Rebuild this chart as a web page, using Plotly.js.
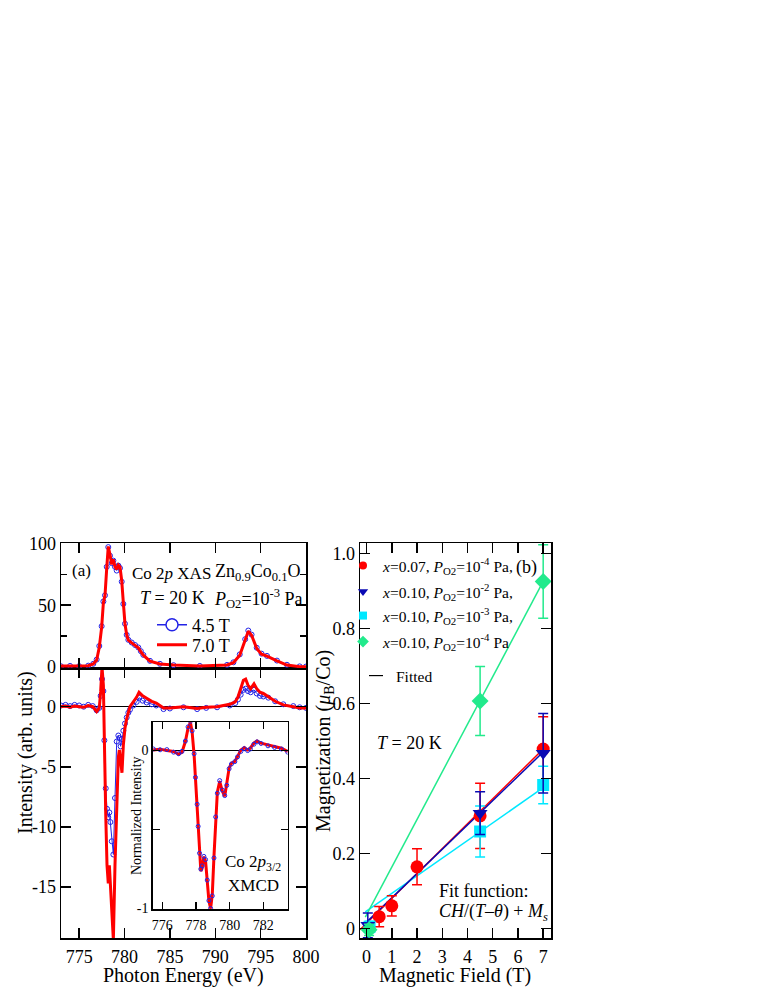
<!DOCTYPE html>
<html>
<head>
<meta charset="utf-8">
<script src="https://cdn.plot.ly/plotly-3.0.1.min.js"></script>
<style>
  body { margin: 0; background: #fff; }
  #chart { width: 763px; height: 987px; }
</style>
</head>
<body>
<div id="chart"></div>
<script>
// ---- (a) Co 2p XAS, top panel ----
const eXas = [773.0, 774.0, 775.0, 776.0, 776.56, 776.93, 777.22, 777.48, 777.67, 777.85, 778.04, 778.21,
  778.4, 778.59, 778.77, 778.95, 779.14, 779.32, 779.5, 779.69, 779.87, 780.05, 780.24, 780.42, 780.79,
  781.16, 781.52, 781.8, 782.07, 782.81, 783.9, 785.4, 788.3, 791.3, 792.0, 792.7, 793.3, 793.64, 794.0,
  794.57, 795.1, 795.7, 796.8, 797.9, 799.3, 800.0];
const xas70 = [0.8, 0.8, 0.8, 1.0, 2.4, 5.6, 16, 32, 52, 58, 80, 97.5,
  91, 83, 87, 81, 79, 82.5, 81, 70, 52, 35, 26, 21.7, 19.5,
  17.5, 15.5, 12.5, 9.6, 4.8, 2.4, 1.6, 0.8, 1.6, 3.5, 9.6, 21.7, 29, 25.7,
  15, 10.4, 8.8, 5, 1.6, 0.3, 0.3];
const xas45 = [0.6, 0.9, 0.7, 1.1, 2.6, 6.0, 17, 33, 53, 58, 81, 97,
  90, 84, 86, 81, 78, 82, 80, 69, 51, 35, 26, 22, 19.8,
  17.8, 15.8, 12.8, 9.8, 5.0, 2.6, 1.5, 0.9, 1.7, 3.8, 10.2, 22.5, 29.5, 26.2,
  15.6, 10.8, 9.0, 5.2, 1.8, 0.5, 0.4];

// ---- (a) XMCD, bottom panel ----
const eMcd = [773.0, 773.5, 774.0, 774.5, 775.0, 775.5, 776.0, 776.5, 776.93, 777.22, 777.37, 777.52,
  777.67, 777.78, 777.93, 778.07, 778.21, 778.33, 778.44, 778.59, 778.77, 778.95, 779.14, 779.32,
  779.43, 779.57, 779.72, 779.87, 780.05, 780.24, 780.42, 780.6, 780.97, 781.34, 781.6, 782.0,
  782.44, 783.0, 783.5, 784.3, 785.0, 786.5, 788.0, 789.0, 790.2, 791.6, 792.2, 792.5, 792.8,
  793.1, 793.35, 793.6, 793.9, 794.27, 794.57, 794.93, 795.3, 795.85, 796.6, 797.5, 798.6, 799.3, 800.0];
const mcd70 = [0, 0.05, -0.05, 0.05, 0, -0.05, 0.1, 0, -0.4, -0.1, 1.25, 3.3,
  1.8, -3.5, -9, -13.2, -14.7, -13.2, -14.9, -17.4, -19.4, -13.2, -8.3, -4.2,
  -3.6, -4.7, -5.5, -3.2, -1.8, -1.0, -0.4, 0, 0.4, 0.8, 1.2, 0.9,
  0.7, 0.45, 0.3, -0.1, -0.1, 0, -0.15, -0.05, 0, 0.2, 0.4, 0.8, 1.5,
  2.2, 2.3, 1.8, 1.5, 1.9, 1.5, 1.2, 1.1, 0.85, 0.45, 0.15, 0, -0.1, -0.1];
const mcd45 = [0.1, 0.15, 0.05, 0.15, 0.1, 0.0, 0.15, 0.05, -0.3, -0.1, 0.9, 2.3,
  1.3, -2.8, -6.8, -8.5, -9.2, -8.8, -9.6, -11.2, -12.3, -7.6, -2.9, -2.4,
  -2.6, -3.3, -2.7, -2.0, -1.4, -0.9, -0.5, -0.25, 0.1, 0.4, 0.75, 0.5,
  0.35, 0.2, 0.1, -0.2, -0.15, -0.05, -0.2, -0.1, -0.05, 0.1, 0.3, 0.6, 1.0,
  1.4, 1.5, 1.3, 1.2, 1.4, 1.1, 0.9, 0.85, 0.75, 0.45, 0.2, 0.05, -0.05, -0.1];

// ---- inset: normalized Co 2p3/2 XMCD ----
const eIn = [775.47, 775.87, 776.27, 776.67, 776.97, 777.17, 777.37, 777.53, 777.67, 777.77, 777.89,
  777.97, 778.07, 778.13, 778.21, 778.29, 778.37, 778.47, 778.57, 778.67, 778.77, 778.87, 778.97,
  779.07, 779.17, 779.27, 779.41, 779.57, 779.71, 779.83, 779.97, 780.11, 780.31, 780.47, 780.67,
  780.87, 781.07, 781.23, 781.44, 781.63, 781.87, 782.28, 782.67, 783.08, 783.45];
const in70 = [0.004, 0.009, 0, -0.006, -0.023, -0.01, 0.057, 0.141, 0.179, 0.12, -0.027,
  -0.174, -0.342, -0.49, -0.658, -0.763, -0.742, -0.672, -0.70, -0.826, -0.952, -1.0, -0.91,
  -0.67, -0.415, -0.264, -0.195, -0.258, -0.29, -0.216, -0.111, -0.08, -0.069, -0.038, 0.004,
  0.019, 0.004, 0.015, 0.047, 0.061, 0.047, 0.036, 0.025, 0.015, -0.006];
const in45 = [0.01, 0.005, 0.006, -0.01, -0.02, -0.005, 0.06, 0.15, 0.185, 0.125, -0.02,
  -0.17, -0.34, -0.48, -0.65, -0.75, -0.73, -0.67, -0.69, -0.82, -0.95, -1.0, -0.92,
  -0.68, -0.42, -0.27, -0.19, -0.25, -0.285, -0.22, -0.115, -0.085, -0.07, -0.04, -0.005,
  0.012, 0.0, 0.01, 0.04, 0.055, 0.045, 0.03, 0.02, 0.01, -0.01];

// ---- (b) magnetization vs field ----
const hRed = [0.5, 1, 2, 4.5, 7];
const mRed = [0.031, 0.060, 0.164, 0.300, 0.478];
const errRed = [0.027, 0.027, 0.048, 0.087, 0.086];
const hBlue = [0.05, 4.5, 7];
const mBlue = [0.008, 0.307, 0.467];
const errBlue = [0.033, 0.057, 0.106];
const hCyan = [0.12, 4.5, 7];
const mCyan = [0.004, 0.258, 0.382];
const errCyan = [0.015, 0.068, 0.05];
const hGreen = [0.1, 4.5, 7];
const mGreen = [-0.004, 0.606, 0.925];
const errGreen = [0.015, 0.092, 0.098];

// fitted lines (end points)
const fitHRed = [-0.26, 7];
const fitRed = [-0.004, 0.478];
const fitH = [-0.05, 7];
const fitBlue = [0.013, 0.470];
const fitCyan = [0.044, 0.375];
const fitGreen = [0.03, 0.925];

const legendLabels = [
  'x=0.07, P<sub>O2</sub>=10<sup>-4</sup> Pa,',
  'x=0.10, P<sub>O2</sub>=10<sup>-2</sup> Pa,',
  'x=0.10, P<sub>O2</sub>=10<sup>-3</sup> Pa,',
  'x=0.10, P<sub>O2</sub>=10<sup>-4</sup> Pa'
];

// colours
const cRed = '#ff0000';
const cBlueA = '#2323e6';
const cBlue = '#0a0ab4';
const cCyan = '#00e8ff';
const cGreen = '#22ea8c';

const W = 763, H = 987;
const px = x => x / W;
const py = y => 1 - y / H;
const FONT = 'Liberation Serif';

const xRangeA = [773, 800];
const xRangeIn = [775.43, 783.45];
const yRangeIn = [-1.005, 0.179];

function italX(s) {
  return s.replace(/^x=/, '<i>x</i>=').replace(/P<sub>/, '<i>P</i><sub>');
}

const traces = [
  // top panel
  {x: eXas, y: xas45, xaxis: 'x2', yaxis: 'y2', mode: 'lines+markers', showlegend: false,
   line: {color: cBlueA, width: 1}, marker: {symbol: 'circle-open', size: 5, color: cBlueA, line: {width: 1}}},
  {x: eXas, y: xas70, xaxis: 'x2', yaxis: 'y2', mode: 'lines', showlegend: false,
   line: {color: cRed, width: 3}},
  // bottom panel
  {x: eMcd, y: mcd45, xaxis: 'x', yaxis: 'y', mode: 'lines+markers', showlegend: false,
   line: {color: cBlueA, width: 1}, marker: {symbol: 'circle-open', size: 5, color: cBlueA, line: {width: 1}}},
  {x: eMcd, y: mcd70, xaxis: 'x', yaxis: 'y', mode: 'lines', showlegend: false,
   line: {color: cRed, width: 3}},
  // inset
  {x: eIn, y: in45, xaxis: 'x3', yaxis: 'y3', mode: 'lines', showlegend: false,
   line: {color: cBlueA, width: 1}},
  {x: eIn, y: in70, xaxis: 'x3', yaxis: 'y3', mode: 'lines', showlegend: false,
   line: {color: cRed, width: 3}},
  {x: eIn, y: in45, xaxis: 'x3', yaxis: 'y3', mode: 'markers', showlegend: false,
   marker: {symbol: 'circle-open', size: 4, color: cBlueA, line: {width: 1}}},
  // legend entries for (a)
  {x: [null], y: [null], xaxis: 'x2', yaxis: 'y2', mode: 'lines+markers', name: '4.5 T', legend: 'legend',
   line: {color: cBlueA, width: 1.5}, marker: {symbol: 'circle', size: 12, color: 'white', line: {color: cBlueA, width: 1.5}}},
  {x: [null], y: [null], xaxis: 'x2', yaxis: 'y2', mode: 'lines', name: '7.0 T', legend: 'legend2',
   line: {color: cRed, width: 3}},
  // (b) fits
  {x: fitHRed, y: fitRed, xaxis: 'x4', yaxis: 'y4', mode: 'lines', showlegend: false, line: {color: cRed, width: 1.5}},
  {x: fitH, y: fitCyan, xaxis: 'x4', yaxis: 'y4', mode: 'lines', showlegend: false, line: {color: cCyan, width: 1.5}},
  {x: fitH, y: fitBlue, xaxis: 'x4', yaxis: 'y4', mode: 'lines', showlegend: false, line: {color: cBlue, width: 1.5}},
  {x: fitH, y: fitGreen, xaxis: 'x4', yaxis: 'y4', mode: 'lines', showlegend: false, line: {color: cGreen, width: 1.5}},
  // (b) points
  {x: hRed, y: mRed, xaxis: 'x4', yaxis: 'y4', mode: 'markers', showlegend: false,
   marker: {symbol: 'circle', size: 13, color: cRed},
   error_y: {type: 'data', array: errRed, color: cRed, thickness: 1.5, width: 5}},
  {x: hCyan, y: mCyan, xaxis: 'x4', yaxis: 'y4', mode: 'markers', showlegend: false,
   marker: {symbol: 'square', size: 12, color: cCyan},
   error_y: {type: 'data', array: errCyan, color: cCyan, thickness: 1.5, width: 5}},
  {x: hBlue, y: mBlue, xaxis: 'x4', yaxis: 'y4', mode: 'markers', showlegend: false,
   marker: {symbol: 'triangle-down', size: 13, color: cBlue},
   error_y: {type: 'data', array: errBlue, color: cBlue, thickness: 1.5, width: 5}},
  {x: hGreen, y: mGreen, xaxis: 'x4', yaxis: 'y4', mode: 'markers', showlegend: false,
   marker: {symbol: 'diamond', size: 13, color: cGreen},
   error_y: {type: 'data', array: errGreen, color: cGreen, thickness: 1.5, width: 5}},
  // legend entries for (b)
  {x: [null], y: [null], xaxis: 'x4', yaxis: 'y4', mode: 'markers', name: italX(legendLabels[0]), legend: 'legend3',
   marker: {symbol: 'circle', size: 8, color: cRed}},
  {x: [null], y: [null], xaxis: 'x4', yaxis: 'y4', mode: 'markers', name: italX(legendLabels[1]), legend: 'legend4',
   marker: {symbol: 'triangle-down', size: 9, color: cBlue}},
  {x: [null], y: [null], xaxis: 'x4', yaxis: 'y4', mode: 'markers', name: italX(legendLabels[2]), legend: 'legend5',
   marker: {symbol: 'square', size: 8, color: cCyan}},
  {x: [null], y: [null], xaxis: 'x4', yaxis: 'y4', mode: 'markers', name: italX(legendLabels[3]), legend: 'legend6',
   marker: {symbol: 'diamond', size: 9, color: cGreen}},
  {x: [null], y: [null], xaxis: 'x4', yaxis: 'y4', mode: 'markers', name: 'Fitted', legend: 'legend7',
   marker: {symbol: 'line-ew', size: 10, color: 'black', line: {color: 'black', width: 1.2}}}
];

const tickFont = {family: FONT, size: 18, color: 'black'};
const insetFont = {family: FONT, size: 14, color: 'black'};

const axBase = {
  showgrid: false, zeroline: false, showline: true, linecolor: 'black', linewidth: 1.5,
  mirror: 'ticks', ticks: 'inside', tickcolor: 'black', tickwidth: 1.5, ticklen: 10,
  tickfont: tickFont, fixedrange: true
};

function leg(x, y, size) {
  return {x: px(x), y: py(y), xanchor: 'left', yanchor: 'middle', bgcolor: 'rgba(0,0,0,0)',
          borderwidth: 0, font: {family: FONT, size: size, color: 'black'}};
}

function ann(text, x, y, size, extra) {
  return Object.assign({text: text, x: px(x), y: py(y), xref: 'paper', yref: 'paper',
    showarrow: false, xanchor: 'center', yanchor: 'middle',
    font: {family: FONT, size: size, color: 'black'}}, extra || {});
}

const layout = {
  width: W, height: H,
  margin: {l: 0, r: 0, t: 0, b: 0},
  paper_bgcolor: 'white', plot_bgcolor: 'white',
  font: {family: FONT, size: 18, color: 'black'},
  showlegend: true,
  xaxis: Object.assign({}, axBase, {domain: [px(61), px(306)], range: xRangeA, anchor: 'y',
    tick0: 775, dtick: 5, ticklabelstandoff: 2}),
  yaxis: Object.assign({}, axBase, {domain: [py(938), py(668)], range: [-19.25, 3.22], anchor: 'x',
    tickvals: [-15, -10, -5, 0], ticktext: ['-15', '-10', '-5', '0'],
    zeroline: true, zerolinecolor: 'black', zerolinewidth: 1.5}),
  xaxis2: Object.assign({}, axBase, {domain: [px(61), px(306)], range: xRangeA, anchor: 'y2',
    tick0: 775, dtick: 5, showticklabels: false}),
  yaxis2: Object.assign({}, axBase, {domain: [py(668), py(543)], range: [-0.8, 100.3], anchor: 'x2',
    tickvals: [0, 50, 100], ticktext: ['0', '50', '100'],
    minor: {tickvals: [25, 75], ticks: 'inside', ticklen: 6, tickcolor: 'black', tickwidth: 1.5}}),
  xaxis3: Object.assign({}, axBase, {domain: [px(152.7), px(287.7)], range: xRangeIn, anchor: 'y3',
    tickvals: [776, 778, 780, 782], ticklen: 7, tickfont: insetFont, ticklabelstandoff: 2}),
  yaxis3: Object.assign({}, axBase, {domain: [py(909.3), py(722.3)], range: yRangeIn, anchor: 'x3',
    tickvals: [-1, -0.5, 0], ticktext: ['-1', '', '0'], ticklen: 7, tickfont: insetFont,
    zeroline: true, zerolinecolor: 'black', zerolinewidth: 1.5}),
  xaxis4: Object.assign({}, axBase, {domain: [px(360), px(551)], range: [-0.26, 7.31], anchor: 'y4',
    tick0: 0, dtick: 1, ticklabelstandoff: 2}),
  yaxis4: Object.assign({}, axBase, {domain: [py(938.3), py(543.3)], range: [-0.0267, 1.0267], anchor: 'x4',
    tickvals: [0, 0.2, 0.4, 0.6, 0.8, 1.0], ticktext: ['0', '0.2', '0.4', '0.6', '0.8', '1.0']}),
  legend: leg(152, 625, 18),
  legend2: leg(152, 645, 18),
  legend3: leg(343, 566, 15.5),
  legend4: leg(343, 592, 15.5),
  legend5: leg(343, 616, 15.5),
  legend6: leg(343, 642, 15.5),
  legend7: leg(356, 676, 15.5),
  shapes: [
    // white background of the inset, drawn in the inset subplot below its traces
    {type: 'rect', xref: 'x3', yref: 'y3', x0: xRangeIn[0], x1: xRangeIn[1], y0: yRangeIn[0], y1: yRangeIn[1],
     fillcolor: 'white', line: {width: 0}, layer: 'below'}
  ],
  annotations: [
    ann('(a)', 81, 570, 17),
    ann('Co 2<i>p</i> XAS', 130, 573, 17, {xanchor: 'left'}),
    ann('Zn<sub>0.9</sub>Co<sub>0.1</sub>O', 213, 572, 18, {xanchor: 'left'}),
    ann('<i>T</i> = 20 K', 138, 598, 18, {xanchor: 'left'}),
    ann('<i>P</i><sub>O2</sub>=10<sup>-3</sup> Pa', 212, 598, 18, {xanchor: 'left'}),
    ann('Co 2<i>p</i><sub>3/2</sub>', 253, 863, 17),
    ann('XMCD', 253, 885, 17),
    ann('Normalized Intensity', 136, 816, 14, {textangle: -90}),
    ann('Photon Energy (eV)', 183, 975, 20),
    ann('Intensity (arb. units)', 25, 753, 20, {textangle: -90}),
    ann('(b)', 526, 567, 18),
    ann('<i>T</i> = 20 K', 375, 743, 18, {xanchor: 'left'}),
    ann('Fit function:', 437, 891, 18, {xanchor: 'left'}),
    ann('<i>CH</i>/(<i>T</i>\u2013<i>\u03b8</i>) + <i>M<sub>s</sub></i>', 437, 912, 18, {xanchor: 'left'}),
    ann('Magnetic Field (T)', 455, 975, 20),
    ann('Magnetization (<i>\u03bc</i><sub>B</sub>/Co)', 324, 741, 20, {textangle: -90})
  ]
};

Plotly.newPlot('chart', traces, layout, {staticPlot: true, displayModeBar: false});
</script>
</body>
</html>
